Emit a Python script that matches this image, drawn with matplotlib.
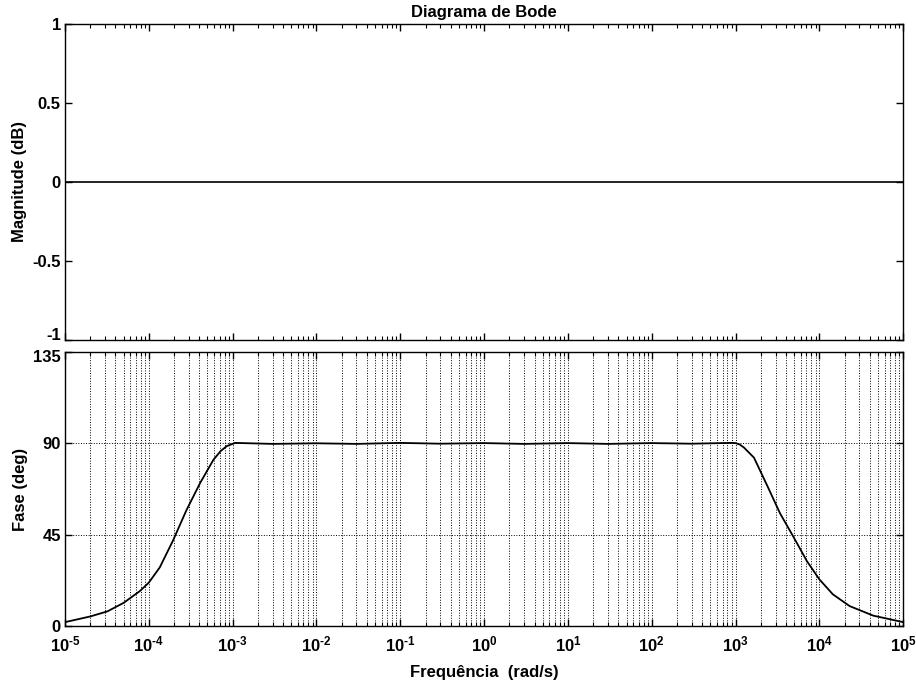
import numpy as np
import matplotlib
matplotlib.use("Agg")
import matplotlib.pyplot as plt
import matplotlib.transforms as mtransforms
from matplotlib.ticker import LogLocator, NullFormatter, FixedLocator

# magnitude is flat 0 dB over the whole range
mag_freq = [1e-5, 1e5]
mag_db = [0.0, 0.0]

# phase (rad/s, deg)
phase_freq = [1e-5, 2.0e-5, 3.2e-5, 5.0e-5, 7.8e-5, 1.0e-4, 1.35e-4, 1.95e-4,
              2.8e-4, 4.1e-4, 5.9e-4, 7.2e-4, 8.5e-4, 1.07e-3, 3e-3, 1e-2,
              3e-2, 0.1, 0.3, 1.0, 3.0, 10.0, 30.0, 100.0, 300.0, 900.0,
              1.0e3, 1.12e3, 1.26e3, 1.66e3, 2.4e3, 3.4e3, 4.9e3, 7.1e3,
              1.0e4, 1.45e4, 2.3e4, 4.4e4, 1.0e5]
phase_deg = [1.9, 4.7, 7.2, 11.4, 17.2, 21.4, 28.9, 42.3,
             57.0, 70.6, 82.0, 86.3, 88.7, 90.3, 89.8, 90.1,
             89.8, 90.3, 89.9, 90.2, 89.8, 90.2, 89.8, 90.2, 89.9, 90.3,
             90.2, 89.5, 88.0, 83.0, 69.0, 55.5, 44.0, 32.0,
             23.0, 15.6, 9.8, 5.1, 1.9]

mag_ticks = [-1, -0.5, 0, 0.5, 1]
mag_labels = ["-1", "-0.5", "0", "0.5", "1"]
phase_ticks = [0, 45, 90, 135]
decades = list(range(-5, 6))

plt.rcParams["font.family"] = ["Liberation Sans", "DejaVu Sans"]
plt.rcParams["font.weight"] = "bold"
plt.rcParams["font.size"] = 12
plt.rcParams["mathtext.fontset"] = "custom"
plt.rcParams["mathtext.rm"] = "Liberation Sans:bold"
plt.rcParams["mathtext.bf"] = "Liberation Sans:bold"
plt.rcParams["mathtext.default"] = "bf"

fig = plt.figure(figsize=(9.16, 6.93), dpi=100)
ax1 = fig.add_axes([0.071, 0.5094, 0.915, 0.456])
ax2 = fig.add_axes([0.071, 0.0967, 0.915, 0.395])


def style(ax):
    ax.set_xscale("log")
    ax.set_xlim(1e-5, 1e5)
    ax.xaxis.set_major_locator(FixedLocator([10.0 ** d for d in decades]))
    ax.xaxis.set_minor_locator(LogLocator(base=10, subs=np.arange(2, 10), numticks=100))
    ax.xaxis.set_minor_formatter(NullFormatter())
    ax.tick_params(which="both", direction="in", top=True, right=True,
                   colors="black", labelsize=12, pad=3)
    ax.tick_params(which="major", length=5, width=1)
    ax.tick_params(which="minor", length=3, width=0.8)
    for s in ax.spines.values():
        s.set_linewidth(1.0)


# top: magnitude
style(ax1)
ax1.plot(mag_freq, mag_db, color="black", lw=1.2)
ax1.set_ylim(-1, 1)
ax1.set_yticks(mag_ticks)
ax1.set_yticklabels(mag_labels)
ax1.set_xticklabels([])
ax1.set_ylabel("Magnitude (dB)", fontsize=12, fontweight="bold", labelpad=4)
ax1.set_title("Diagrama de Bode", fontsize=12, fontweight="bold", pad=5)

# bottom: phase
style(ax2)
ax2.plot(phase_freq, phase_deg, color="black", lw=1.3)
ax2.set_ylim(0, 135)
ax2.set_yticks(phase_ticks)
ax2.set_xticklabels([r"$10^{\text{%d}}$" % d for d in decades])
ax2.tick_params(axis="x", pad=6)
ax2.grid(True, which="major", linestyle=":", color="black", lw=0.7)
ax2.grid(True, which="minor", axis="x", linestyle=":", color="black", lw=0.7)
ax2.set_ylabel("Fase (deg)", fontsize=12, fontweight="bold", labelpad=4)
ax2.set_xlabel("Frequência  (rad/s)", fontsize=12, fontweight="bold", labelpad=8)

# the -1 and 135 labels sit close together, nudge them apart a little
lbl = ax1.get_yticklabels()[0]
lbl.set_transform(lbl.get_transform() + mtransforms.ScaledTranslation(0, 4 / 72, fig.dpi_scale_trans))
lbl = ax2.get_yticklabels()[-1]
lbl.set_transform(lbl.get_transform() + mtransforms.ScaledTranslation(0, -3 / 72, fig.dpi_scale_trans))

fig.savefig("out.png", dpi=100)
